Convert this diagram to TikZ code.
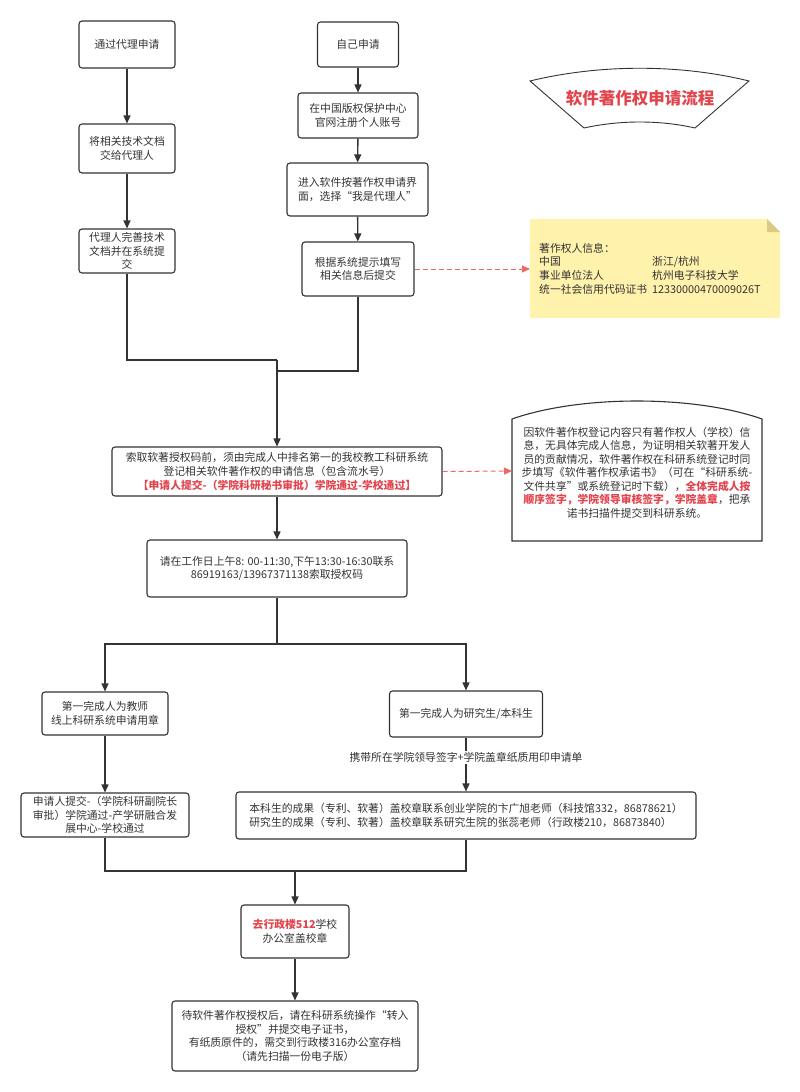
\documentclass[tikz,border=0pt]{standalone}
\usepackage{fontspec}
\setmainfont{Noto Sans CJK SC}
\usetikzlibrary{
    arrows.meta,
    calc,
    positioning
}
\definecolor{flowgray}{RGB}{51,51,51}
\definecolor{flowred}{RGB}{226,68,78}
\definecolor{hintred}{RGB}{234,107,102}
\definecolor{noteyellow}{RGB}{255,242,172}
\definecolor{notefold}{RGB}{216,202,132}

\begin{document}
\begin{tikzpicture}[x=1pt, y={(0pt,-1pt)},
        every node/.style={font=\fontsize{10.8}{13.6}\selectfont, text=flowgray},
        stepbox/.style={draw=flowgray, line width=1.1pt, rounded corners=3pt, align=center, inner sep=2pt},
        link/.style={draw=flowgray, line width=1.4pt},
        flow/.style={link, -{Triangle[length=8pt,width=7pt]}},
        hint/.style={draw=hintred, line width=1pt, dash pattern=on 5pt off 3pt, -{Triangle[length=8pt,width=7pt]}}]

    \useasboundingbox (0,0) rectangle (800,1092);

    % two ways to apply
    \node[stepbox, minimum width=96, minimum height=47] (proxy) at (127,44.5) {通过代理申请};
    \node[stepbox, minimum width=96, minimum height=49] (handover) at (127,148.5) {将相关技术文档\\交给代理人};
    \node[stepbox, minimum width=96, minimum height=44] (agentsub) at (127,251) {代理人完善技术\\文档并在系统提\\交};

    \node[stepbox, minimum width=81, minimum height=45] (self) at (358,44.5) {自己申请};
    \node[stepbox, minimum width=120, minimum height=45] (register) at (358,115.5) {在中国版权保护中心\\官网注册个人账号};
    \node[stepbox, minimum width=141, minimum height=53] (enter) at (357.5,189.5) {进入软件按著作权申请界\\面，选择“我是代理人”};
    \node[stepbox, minimum width=112, minimum height=54] (fill) at (358,269) {根据系统提示填写\\相关信息后提交};

    \draw[flow] (proxy) -- (handover);
    \draw[flow] (handover) -- (agentsub);
    \draw[flow] (self) -- (register);
    \draw[flow] (register) -- (enter);
    \draw[flow] (enter) -- (fill);

    % title
    \draw[flowgray, line width=0.9pt] (530,81) .. controls (600,64) and (680,64) .. (749,81)
        -- (695,128) .. controls (660,120) and (620,120) .. (584,128) -- cycle;
    \node (title) at (640,98) {\fontsize{16.5}{18}\selectfont\bfseries\color{flowred}软件著作权申请流程};

    % owner info note
    \fill[noteyellow] (530,219) -- (767,219) -- (780,232) -- (780,318) -- (530,318) -- cycle;
    \fill[notefold] (767,219) -- (780,232) -- (767,232) -- cycle;
    \node[anchor=west, inner sep=0] (owner) at (539,270) {%
        \begin{tabular}{@{}l@{\hspace{5pt}}l@{}}
        \multicolumn{2}{@{}l@{}}{著作权人信息：}\\
        中国 & 浙江/杭州\\
        事业单位法人 & 杭州电子科技大学\\
        统一社会信用代码证书 & 12330000470009026T
        \end{tabular}};
    \coordinate (ownerL) at (530,269);
    \draw[hint] (fill.east) -- (ownerL);

    % merge into the registration step
    \node[stepbox, minimum width=330, minimum height=49] (record) at (277,471.5)
        {索取软著授权码前，须由完成人中排名第一的我校教工科研系统\\登记相关软件著作权的申请信息（包含流水号）\\
         \textcolor{flowred}{\bfseries【申请人提交-（学院科研秘书审批）学院通过-学校通过】}};
    \coordinate (mergeL) at (277,360);
    \coordinate (mergeR) at (277,371);
    \draw[link] (agentsub.south) |- (mergeL);
    \draw[link] (fill.south) |- (mergeR);
    \draw[flow] (mergeL) -- (record.north);

    % pledge note
    \draw[flowgray, line width=1.1pt] (512,419) .. controls (580,395) and (694,395) .. (762,419)
        -- (762,541) -- (512,541) -- cycle;
    \node[align=center, font=\fontsize{10.8}{13.5}\selectfont] (pledge) at (637,472.5)
        {因软件著作权登记内容只有著作权人（学校）信\\
         息，无具体完成人信息，为证明相关软著开发人\\
         员的贡献情况，软件著作权在科研系统登记时同\\
         步填写《软件著作权承诺书》（可在“科研系统-\\
         文件共享”或系统登记时下载），\textcolor{flowred}{\bfseries 全体完成人按}\\
         \textcolor{flowred}{\bfseries 顺序签字，学院领导审核签字，学院盖章}，把承\\
         诺书扫描件提交到科研系统。};
    \coordinate (pledgeL) at (512,471);
    \draw[hint] (record.east) -- (pledgeL);

    \node[stepbox, minimum width=260, minimum height=57] (code) at (277,568.5)
        {请在工作日上午8: 00-11:30,下午13:30-16:30联系\\86919163/13967371138索取授权码};
    \draw[flow] (record) -- (code);

    % split by first author
    \node[stepbox, minimum width=126, minimum height=43] (teacher) at (105,713.5) {第一完成人为教师\\线上科研系统申请用章};
    \node[stepbox, minimum width=153, minimum height=46] (student) at (466,714) {第一完成人为研究生/本科生};
    \coordinate (fork) at (277,644);
    \draw[link] (code.south) -- (fork);
    \draw[flow] (fork) -| (teacher.north);
    \draw[flow] (fork) -| (student.north);

    \node[stepbox, minimum width=168, minimum height=44] (online) at (105,815)
        {申请人提交-（学院科研副院长\\审批）学院通过-产学研融合发\\展中心-学校通过};
    \node[stepbox, minimum width=460, minimum height=47, align=left] (contact) at (466,815.5)
        {本科生的成果（专利、软著）盖校章联系创业学院的卞广旭老师（科技馆332，86878621）\\
         研究生的成果（专利、软著）盖校章联系研究生院的张蕊老师（行政楼210，86873840）};
    \draw[flow] (teacher) -- (online);
    \draw[flow] (student) -- node[pos=0.37, fill=white, inner sep=1.5pt] (carry)
        {携带所在学院领导签字+学院盖章纸质用印申请单} (contact);

    % seal and archive
    \node[stepbox, minimum width=108, minimum height=53] (seal) at (295,931.5)
        {\textcolor{flowred}{\bfseries 去行政楼512}学校\\办公室盖校章};
    \coordinate (join) at (295,871);
    \draw[link] (online.south) |- (join);
    \draw[link] (contact.south) |- (join);
    \draw[flow] (join) -- (seal.north);

    \node[stepbox, minimum width=246, minimum height=70] (archive) at (295,1036)
        {待软件著作权授权后，请在科研系统操作“转入\\授权”并提交电子证书，\\
         有纸质原件的，需交到行政楼316办公室存档\\（请先扫描一份电子版）};
    \draw[flow] (seal) -- (archive);
\end{tikzpicture}
\end{document}
